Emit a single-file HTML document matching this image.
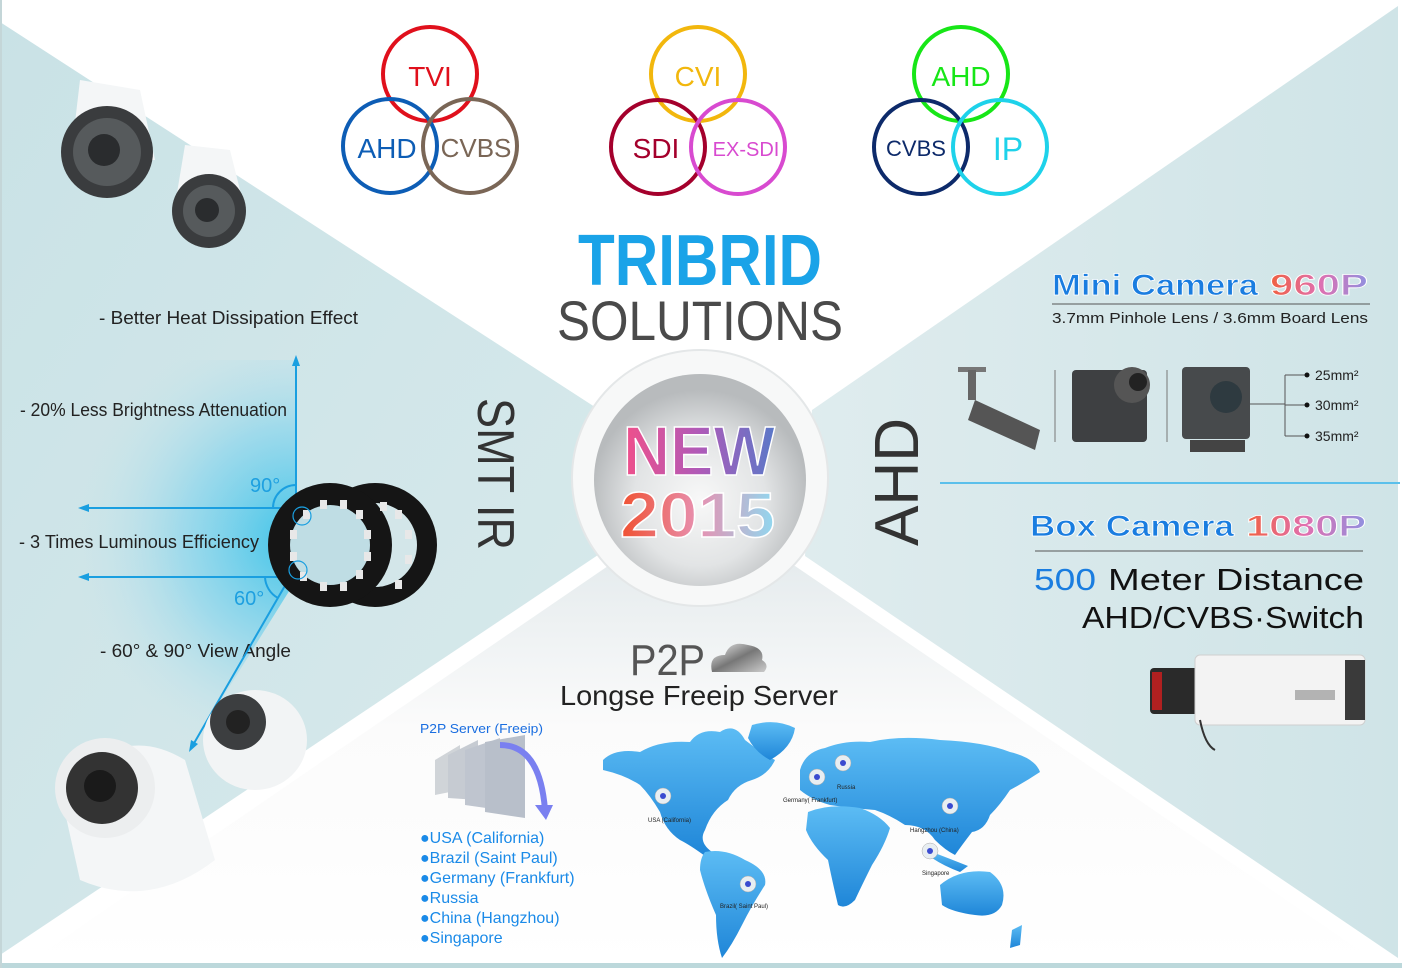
<!DOCTYPE html>
<html><head><meta charset="utf-8"><style>
html,body{margin:0;padding:0;background:#fff;}
svg{display:block;font-family:"Liberation Sans","DejaVu Sans",sans-serif;}
</style></head><body>
<svg width="1402" height="968" viewBox="0 0 1402 968" xmlns="http://www.w3.org/2000/svg">
<defs>
<linearGradient id="lp" x1="0" y1="0" x2="1" y2="1"><stop offset="0" stop-color="#c9e2e6"/><stop offset="1" stop-color="#d9eaec"/></linearGradient>
<linearGradient id="rp" x1="0" y1="0" x2="1" y2="0"><stop offset="0" stop-color="#dfecee"/><stop offset="1" stop-color="#cfe4e7"/></linearGradient>
<linearGradient id="bp" x1="0" y1="0" x2="0" y2="1"><stop offset="0" stop-color="#e6ecee"/><stop offset="0.4" stop-color="#fbfbfb"/><stop offset="1" stop-color="#fff"/></linearGradient>
<radialGradient id="glow" cx="296" cy="540" r="230" gradientUnits="userSpaceOnUse"><stop offset="0" stop-color="#2ec0ea"/><stop offset="0.5" stop-color="#8dd6ec" stop-opacity="0.8"/><stop offset="1" stop-color="#cfe6ea" stop-opacity="0"/></radialGradient>
<radialGradient id="cg" cx="700" cy="500" r="110" gradientUnits="userSpaceOnUse"><stop offset="0" stop-color="#f8f8f8"/><stop offset="0.6" stop-color="#e2e4e5"/><stop offset="1" stop-color="#b8bbbd"/></radialGradient>
<linearGradient id="newg" x1="0" y1="0" x2="1" y2="0"><stop offset="0" stop-color="#f0508a"/><stop offset="0.5" stop-color="#b05ab8"/><stop offset="1" stop-color="#5a78c8"/></linearGradient>
<linearGradient id="yg" x1="0" y1="0" x2="1" y2="0"><stop offset="0" stop-color="#f05030"/><stop offset="0.5" stop-color="#e890b0"/><stop offset="1" stop-color="#90d8f0"/></linearGradient>
<linearGradient id="pg" x1="0" y1="0" x2="1" y2="0"><stop offset="0" stop-color="#f06040"/><stop offset="0.5" stop-color="#e070b0"/><stop offset="1" stop-color="#9090e0"/></linearGradient>
<linearGradient id="mapg" x1="0" y1="0" x2="0" y2="1"><stop offset="0" stop-color="#5cbcf4"/><stop offset="1" stop-color="#1f86d8"/></linearGradient>
<linearGradient id="cld" x1="0" y1="0" x2="1" y2="1"><stop offset="0" stop-color="#eee"/><stop offset="0.5" stop-color="#777"/><stop offset="1" stop-color="#ccc"/></linearGradient>
</defs>
<rect width="1402" height="968" fill="#fff"/>
<polygon points="0,22 615,420 598,555 0,955" fill="url(#lp)"/>
<polygon points="1398,6 812,410 805,556 1398,958" fill="url(#rp)"/>
<polygon points="20,968 608,566 795,566 1386,968" fill="url(#bp)"/>
<rect x="0" y="963" width="1402" height="5" fill="#bcd8db"/>
<rect x="0" y="0" width="2" height="968" fill="#c4d6d8"/>
<polygon points="80,360 296,360 296,580 190,750 80,750" fill="url(#glow)" opacity="0.9"/>

<g>
<path d="M80,80 L140,90 L155,160 L70,165 Z" fill="#f4f6f7"/>
<circle cx="107" cy="152" r="46" fill="#3a3c3e"/><circle cx="107" cy="152" r="34" fill="#565a5c"/><circle cx="104" cy="150" r="16" fill="#2a2c2e"/>
<path d="M185,145 L230,150 L245,210 L175,205 Z" fill="#f4f6f7"/>
<circle cx="209" cy="211" r="37" fill="#3a3c3e"/><circle cx="209" cy="211" r="26" fill="#565a5c"/><circle cx="207" cy="210" r="12" fill="#2a2c2e"/>
</g>

<g font-size="18" fill="#222">
<text x="99" y="324" textLength="259" lengthAdjust="spacingAndGlyphs">- Better Heat Dissipation Effect</text>
<text x="20" y="416" textLength="267" lengthAdjust="spacingAndGlyphs">- 20% Less Brightness Attenuation</text>
<text x="19" y="548" textLength="240" lengthAdjust="spacingAndGlyphs">- 3 Times Luminous Efficiency</text>
<text x="100" y="657" textLength="191" lengthAdjust="spacingAndGlyphs">- 60° &amp; 90° View Angle</text>
</g>
<g stroke="#1a9fe0" stroke-width="2" fill="#1a9fe0">
<line x1="296" y1="362" x2="296" y2="508"/><polygon points="296,355 292,366 300,366" stroke="none"/>
<line x1="296" y1="508" x2="84" y2="508"/><polygon points="78,508 89,504 89,512" stroke="none"/>
<line x1="290" y1="577" x2="84" y2="577"/><polygon points="78,577 89,573 89,581" stroke="none"/>
<line x1="290" y1="577" x2="193" y2="745"/><polygon points="189,752 191,740 198,744" stroke="none"/>
<path d="M273,508 A23,23 0 0 1 296,485" fill="none"/>
<path d="M265,577 A25,25 0 0 0 278,598" fill="none"/>
</g>
<text x="250" y="492" font-size="20" fill="#1ea0e0">90°</text>
<text x="234" y="605" font-size="20" fill="#1ea0e0">60°</text>
<g>
<circle cx="375" cy="545" r="62" fill="#151515"/><circle cx="375" cy="545" r="42" fill="#d3e6e9"/>
<circle cx="330" cy="545" r="62" fill="#151515"/><circle cx="330" cy="545" r="40" fill="#bfdde4"/>
<g fill="#e8e8e8">
<rect x="303" y="510" width="7" height="9"/><rect x="320" y="500" width="7" height="9"/><rect x="340" y="500" width="7" height="9"/><rect x="356" y="510" width="7" height="9"/><rect x="364" y="530" width="7" height="9"/><rect x="364" y="552" width="7" height="9"/><rect x="356" y="570" width="7" height="9"/><rect x="340" y="582" width="7" height="9"/><rect x="320" y="582" width="7" height="9"/><rect x="300" y="572" width="7" height="9"/><rect x="290" y="552" width="7" height="9"/><rect x="290" y="530" width="7" height="9"/>
<rect x="405" y="530" width="7" height="9"/><rect x="405" y="555" width="7" height="9"/><rect x="395" y="580" width="7" height="9"/><rect x="380" y="502" width="7" height="9"/><rect x="395" y="510" width="7" height="9"/>
</g>
<circle cx="302" cy="516" r="9" fill="none" stroke="#1a9fe0" stroke-width="1.2"/>
<circle cx="298" cy="570" r="9" fill="none" stroke="#1a9fe0" stroke-width="1.2"/>
</g>
<g>
<ellipse cx="255" cy="740" rx="52" ry="50" fill="#f2f4f5"/><circle cx="238" cy="722" r="28" fill="#3c3e40"/><circle cx="238" cy="722" r="12" fill="#222"/>
<path d="M60,790 Q120,720 185,760 L215,860 Q150,910 80,880 Z" fill="#f4f6f7"/>
<circle cx="105" cy="788" r="50" fill="#eceeef"/><circle cx="102" cy="788" r="36" fill="#333"/><circle cx="100" cy="786" r="16" fill="#1a1a1a"/>
</g>
<text transform="translate(478,398) rotate(90)" font-size="52" fill="#333" textLength="152" lengthAdjust="spacingAndGlyphs">SMT IR</text>

<g fill="none" stroke-width="4">
<circle cx="430" cy="74" r="47" stroke="#e0101c"/><circle cx="390" cy="146" r="47" stroke="#0d5db5"/><circle cx="470" cy="146" r="47" stroke="#7a6656"/>
<circle cx="698" cy="74" r="47" stroke="#f2b70d"/><circle cx="658" cy="147" r="47" stroke="#a4002c"/><circle cx="738" cy="147" r="47" stroke="#d84ad0"/>
<circle cx="961" cy="74" r="47" stroke="#17e617"/><circle cx="921" cy="147" r="47" stroke="#0d2a6a"/><circle cx="1000" cy="147" r="47" stroke="#1ed2ea"/>
</g>
<g font-size="28" text-anchor="middle">
<text x="430" y="86" fill="#e0101c">TVI</text>
<text x="387" y="158" fill="#0d5db5">AHD</text>
<text x="476" y="157" fill="#7a6656" font-size="26">CVBS</text>
<text x="698" y="86" fill="#f2b70d">CVI</text>
<text x="656" y="158" fill="#a4002c">SDI</text>
<text x="746" y="156" fill="#d84ad0" font-size="20">EX-SDI</text>
<text x="961" y="86" fill="#17e617">AHD</text>
<text x="916" y="156" fill="#0d2a6a" font-size="22">CVBS</text>
<text x="1008" y="160" fill="#1ed2ea" font-size="32">IP</text>
</g>
<text x="578" y="285" font-size="72" font-weight="bold" fill="#1aa3e8" textLength="244" lengthAdjust="spacingAndGlyphs">TRIBRID</text>
<text x="557" y="340" font-size="56" fill="#4a4a4a" textLength="286" lengthAdjust="spacingAndGlyphs">SOLUTIONS</text>

<circle cx="700" cy="478" r="128" fill="#f7f8f8"/>
<circle cx="700" cy="478" r="128" fill="none" stroke="#e4e7e8" stroke-width="2"/>
<circle cx="700" cy="480" r="106" fill="url(#cg)"/>
<text x="623" y="475" font-size="70" font-weight="bold" fill="url(#newg)" stroke="#fff" stroke-width="1.5" textLength="152" lengthAdjust="spacingAndGlyphs">NEW</text>
<text x="620" y="537" font-size="64" font-weight="bold" fill="url(#yg)" stroke="#fff" stroke-width="1.5" textLength="155" lengthAdjust="spacingAndGlyphs">2015</text>

<text transform="translate(918,546) rotate(-90)" font-size="62" fill="#333" textLength="128" lengthAdjust="spacingAndGlyphs">AHD</text>
<text x="1052" y="295" font-size="30" font-weight="bold" fill="#1a7de0" stroke="#fff" stroke-width="0.8" textLength="206" lengthAdjust="spacingAndGlyphs">Mini Camera</text>
<text x="1270" y="295" font-size="30" font-weight="bold" fill="url(#pg)" stroke="#fff" stroke-width="0.8" textLength="98" lengthAdjust="spacingAndGlyphs">960P</text>
<line x1="1052" y1="304" x2="1370" y2="304" stroke="#555" stroke-width="1"/>
<text x="1052" y="323" font-size="15" fill="#222" textLength="316" lengthAdjust="spacingAndGlyphs">3.7mm Pinhole Lens  /  3.6mm Board Lens</text>
<g>
<rect x="958" y="367" width="28" height="5" fill="#777"/>
<rect x="968" y="370" width="8" height="30" fill="#666"/>
<path d="M975,400 L1040,430 L1035,450 L968,420 Z" fill="#555"/>
<line x1="1055" y1="370" x2="1055" y2="442" stroke="#777"/>
<rect x="1072" y="370" width="75" height="72" rx="4" fill="#3e4042"/><circle cx="1132" cy="385" r="18" fill="#555"/><circle cx="1138" cy="382" r="9" fill="#222"/>
<line x1="1167" y1="370" x2="1167" y2="442" stroke="#777"/>
<rect x="1182" y="367" width="68" height="72" rx="4" fill="#474a4c"/><circle cx="1226" cy="397" r="16" fill="#2e3a40"/><rect x="1190" y="440" width="55" height="12" fill="#444"/>
<path d="M1250,404 H1285 M1285,375 V436 M1285,375 H1305 M1285,405 H1305 M1285,436 H1305" stroke="#555" fill="none"/>
<circle cx="1307" cy="375" r="2.5" fill="#111"/><circle cx="1307" cy="405" r="2.5" fill="#111"/><circle cx="1307" cy="436" r="2.5" fill="#111"/>
<g font-size="14" fill="#222"><text x="1315" y="380">25mm²</text><text x="1315" y="410">30mm²</text><text x="1315" y="441">35mm²</text></g>
</g>
<line x1="940" y1="483" x2="1400" y2="483" stroke="#5bc0eb" stroke-width="2"/>
<text x="1030" y="536" font-size="30" font-weight="bold" fill="#1a7de0" stroke="#fff" stroke-width="0.8" textLength="204" lengthAdjust="spacingAndGlyphs">Box Camera</text>
<text x="1246" y="536" font-size="30" font-weight="bold" fill="url(#pg)" stroke="#fff" stroke-width="0.8" textLength="120" lengthAdjust="spacingAndGlyphs">1080P</text>
<line x1="1035" y1="551" x2="1363" y2="551" stroke="#555" stroke-width="1"/>
<text x="1034" y="590" font-size="31" fill="#1a7de0" textLength="62" lengthAdjust="spacingAndGlyphs">500</text>
<text x="1108" y="590" font-size="31" fill="#111" textLength="256" lengthAdjust="spacingAndGlyphs">Meter Distance</text>
<text x="1082" y="628" font-size="31" fill="#111" textLength="282" lengthAdjust="spacingAndGlyphs">AHD/CVBS·Switch</text>
<g>
<rect x="1150" y="668" width="50" height="46" rx="4" fill="#2a2a2a"/><rect x="1152" y="672" width="10" height="38" fill="#b02020"/>
<rect x="1195" y="655" width="170" height="70" rx="5" fill="#f3f3f3" stroke="#cfcfcf"/>
<rect x="1345" y="660" width="20" height="60" fill="#3a3a3a"/>
<rect x="1295" y="690" width="40" height="10" fill="#888" opacity="0.6"/>
<path d="M1200,720 Q1205,745 1215,750" stroke="#333" fill="none" stroke-width="2"/>
</g>

<text x="630" y="675" font-size="44" fill="#555" textLength="75" lengthAdjust="spacingAndGlyphs">P2P</text>
<path d="M712,672 Q708,655 725,655 Q730,640 748,645 Q765,648 762,660 Q770,665 764,672 Z" fill="url(#cld)"/>
<text x="560" y="705" font-size="28" fill="#222" textLength="278" lengthAdjust="spacingAndGlyphs">Longse Freeip Server</text>
<text x="420" y="733" font-size="13" fill="#1a6ee0" textLength="123" lengthAdjust="spacingAndGlyphs">P2P Server (Freeip)</text>
<g>
<polygon points="435,760 460,745 460,790 435,795" fill="#d0d4d8"/>
<polygon points="448,755 478,740 478,800 448,798" fill="#c6cbd2"/>
<polygon points="465,750 500,738 500,810 465,805" fill="#bfc5cf"/>
<polygon points="485,742 525,735 525,818 485,812" fill="#b8bfca"/>
<path d="M500,745 Q540,745 545,810" stroke="#7a80f0" stroke-width="6" fill="none"/>
<polygon points="535,805 553,805 546,820" fill="#7a80f0"/>
</g>
<g font-size="16" fill="#1a8ae8">
<text x="420" y="843">●USA (California)</text>
<text x="420" y="863">●Brazil (Saint Paul)</text>
<text x="420" y="883">●Germany (Frankfurt)</text>
<text x="420" y="903">●Russia</text>
<text x="420" y="923">●China (Hangzhou)</text>
<text x="420" y="943">●Singapore</text>
</g>
<!-- world map -->
<g fill="url(#mapg)">
<path d="M603,760 Q615,748 640,752 Q660,740 690,742 Q700,728 720,732 Q735,722 745,740 Q760,752 775,760 Q768,775 752,780 Q735,785 728,800 Q712,810 705,830 Q698,842 712,852 L705,856 Q690,845 680,840 Q665,830 660,812 Q650,795 640,785 Q625,775 603,770 Z"/>
<path d="M752,725 Q775,718 795,728 Q792,748 770,760 Q755,752 748,738 Z"/>
<path d="M705,852 Q725,848 745,860 Q768,870 765,885 Q752,905 742,925 Q732,945 722,958 Q716,940 716,915 Q705,890 700,870 Q700,858 705,852 Z"/>
<path d="M800,770 Q805,752 825,748 Q845,740 870,742 Q900,735 940,740 Q985,742 1010,752 Q1035,758 1040,772 Q1025,782 1010,790 Q1000,805 990,815 Q985,830 972,832 Q962,845 955,855 Q945,850 935,840 Q925,825 905,825 Q890,815 875,810 Q850,808 830,805 Q812,800 800,790 Z"/>
<path d="M808,812 Q830,803 860,808 Q880,815 890,828 Q885,845 872,865 Q862,885 855,900 Q845,910 838,905 Q832,880 828,860 Q812,845 806,830 Z"/>
<path d="M940,885 Q960,868 990,872 Q1008,885 1002,905 Q995,918 975,915 Q952,912 942,905 Z"/>
<path d="M932,852 Q948,858 968,866 L960,872 Q944,866 932,858 Z"/>
<path d="M1012,930 L1022,925 L1020,945 L1010,948 Z"/>
</g>
<g font-size="6" fill="#222">
<text x="648" y="822">USA (California)</text><text x="720" y="908">Brazil( Saint Paul)</text><text x="783" y="802">Germany( Frankfurt)</text><text x="837" y="789">Russia</text><text x="910" y="832">Hangzhou (China)</text><text x="922" y="875">Singapore</text>
</g>
<g fill="#e8eef2" stroke="#aaa" stroke-width="0.5">
<circle cx="663" cy="796" r="8"/><circle cx="748" cy="884" r="8"/><circle cx="817" cy="777" r="8"/><circle cx="843" cy="763" r="8"/><circle cx="950" cy="806" r="8"/><circle cx="930" cy="851" r="8"/>
</g>
<g fill="#3a4bd0"><circle cx="663" cy="796" r="3"/><circle cx="748" cy="884" r="3"/><circle cx="817" cy="777" r="3"/><circle cx="843" cy="763" r="3"/><circle cx="950" cy="806" r="3"/><circle cx="930" cy="851" r="3"/></g>
</svg>
</body></html>
